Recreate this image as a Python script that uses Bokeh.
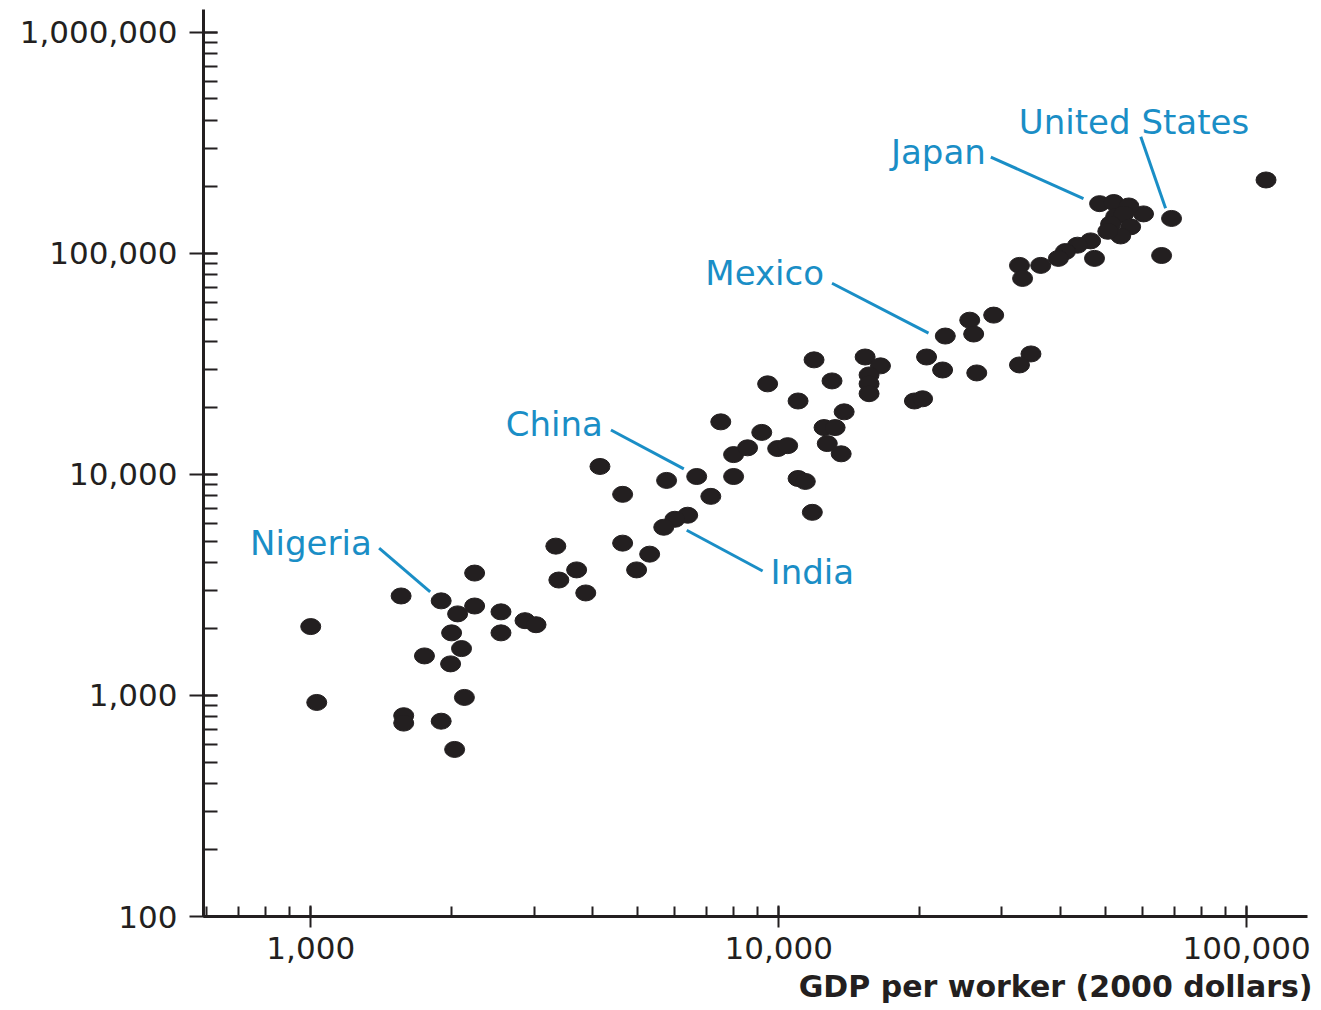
from bokeh.plotting import figure
from bokeh.models import NumeralTickFormatter, Title, ColumnDataSource
from bokeh.embed import file_html
from bokeh.resources import INLINE
from bokeh.core.properties import value

# ---- data (GDP per worker, capital per worker; 2000 dollars) ----
gdp_per_worker = [
    1000, 1030, 1560, 1900, 2060, 2240, 2550, 2550, 2000, 2100,
    1750, 1990, 2130, 1580, 1580, 1900, 2030, 2240, 2870, 3030,
    3340, 3700, 3390, 3870, 4640, 4150, 4640, 5760, 6680, 7160,
    8010, 8010, 6390, 6000, 5680, 5300, 4970, 11900, 15300, 16500,
    15600, 15600, 15600, 13000, 9470, 11000, 13800, 7520, 12500, 13200,
    9200, 12700, 13600, 8580, 9950, 10450, 11000, 11400, 11800, 22700,
    25600, 26100, 28800, 20700, 22400, 26500, 34600, 32700, 19500, 20300,
    110000, 69100, 65800, 60200, 48500, 52000, 56000, 52500, 54600, 51200,
    56500, 53800, 50500, 46400, 43500, 41000, 39600, 47300, 36300, 32700,
    33200,
]
capital_per_worker = [
    2050, 930, 2820, 2680, 2340, 2540, 2390, 1920, 1920, 1630,
    1510, 1390, 980, 810, 750, 765, 570, 3580, 2180, 2090,
    4740, 3700, 3330, 2910, 4890, 10870, 8130, 9400, 9790, 7960,
    12300, 9790, 6540, 6270, 5770, 4360, 3700, 33000, 34000, 31000,
    28200, 25700, 23200, 26500, 25700, 21500, 19200, 17300, 16300, 16300,
    15500, 13800, 12400, 13200, 13100, 13500, 9590, 9300, 6740, 42300,
    49900, 43200, 52600, 34000, 29700, 28800, 35100, 31300, 21500, 22000,
    215000, 144000, 97900, 151000, 168000, 170000, 164000, 147000, 151000, 136000,
    132000, 120000, 126000, 114000, 109000, 102000, 95000, 95000, 88300, 88300,
    77100,
]

# ---- labelled countries ----
label_names = ["Japan", "United States", "Mexico", "China", "India", "Nigeria"]
label_x = [27700, 32600, 12500, 4210, 9610, 1350]
label_y = [288000, 393000, 81300, 17000, 3620, 4890]
label_align = ["right", "left", "right", "right", "left", "right"]
leader_x0 = [28400, 59400, 13000, 4380, 9240, 1400]
leader_y0 = [273000, 337000, 73300, 15900, 3660, 4640]
leader_x1 = [44800, 67100, 20900, 6270, 6360, 1800]
leader_y1 = [177000, 160000, 43600, 10600, 5590, 2940]

x_title = "GDP per worker (2000 dollars)"
x_min, x_max = 590, 134900
y_min, y_max = 100, 1270000

INK = "#231f20"
BLUE = "#1a8ec6"
FONT = "DejaVu Sans"

p = figure(
    width=1313, height=1010,
    x_axis_type="log", y_axis_type="log",
    x_range=(x_min, x_max), y_range=(y_min, y_max),
    output_backend="svg", toolbar_location=None,
    min_border_left=203, min_border_right=6, min_border_top=9, min_border_bottom=94,
    background_fill_color="white", border_fill_color="white",
)
p.outline_line_color = None
p.xgrid.visible = False
p.ygrid.visible = False

pts = ColumnDataSource(dict(x=gdp_per_worker, y=capital_per_worker))
p.ellipse("x", "y", width=20, height=16, width_units="screen", height_units="screen",
          source=pts, fill_color=INK, line_color=INK, line_width=1)

lead = ColumnDataSource(dict(x0=leader_x0, y0=leader_y0, x1=leader_x1, y1=leader_y1))
p.segment("x0", "y0", "x1", "y1", source=lead, line_color=BLUE, line_width=3)

labs = ColumnDataSource(dict(x=label_x, y=label_y, t=label_names, a=label_align))
p.text("x", "y", text="t", source=labs, text_align="a", text_baseline="middle",
       text_font=value(FONT), text_font_size="34px", text_color=BLUE)

for ax in (p.xaxis, p.yaxis):
    ax.formatter = NumeralTickFormatter(format="0,0")
    ax.axis_line_color = INK
    ax.axis_line_width = 3
    ax.major_tick_line_color = INK
    ax.minor_tick_line_color = INK
    ax.major_tick_line_width = 2
    ax.minor_tick_line_width = 2
    ax.major_label_text_font = FONT
    ax.major_label_text_font_size = "31px"
    ax.major_label_text_color = INK

p.yaxis.major_tick_in = 14
p.yaxis.major_tick_out = 14
p.yaxis.minor_tick_in = 14
p.yaxis.minor_tick_out = 0
p.yaxis.major_label_standoff = 12

p.xaxis.major_tick_in = 11
p.xaxis.major_tick_out = 11
p.xaxis.minor_tick_in = 10
p.xaxis.minor_tick_out = 0
p.xaxis.major_label_standoff = 9

title = Title(text=x_title, align="right", offset=-5, standoff=11,
              text_font=FONT, text_font_size="30px", text_font_style="bold",
              text_color=INK)
p.add_layout(title, "below")

open("out.html", "w").write(file_html(p, INLINE))
